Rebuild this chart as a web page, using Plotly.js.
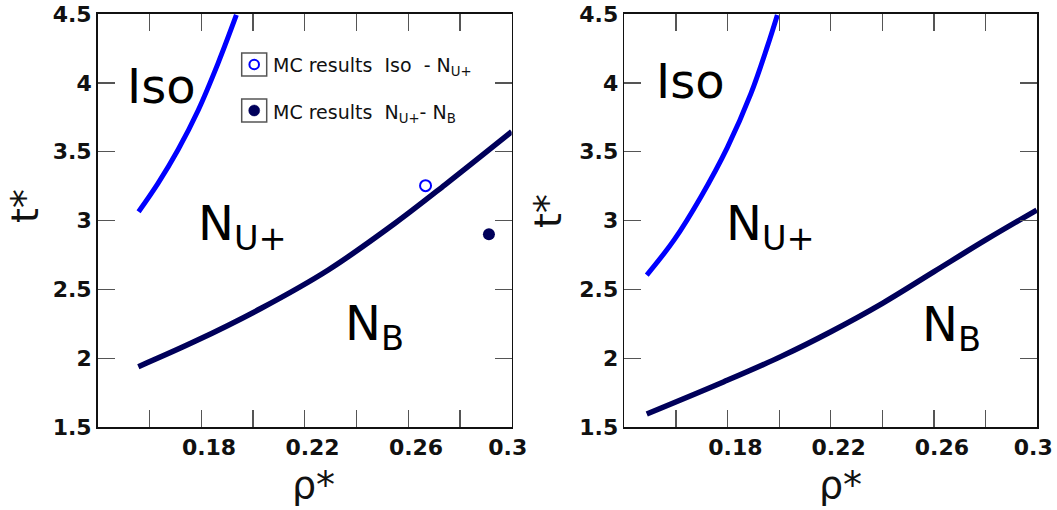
<!DOCTYPE html>
<html>
<head>
<meta charset="utf-8">
<script src="https://cdn.plot.ly/plotly-3.0.1.min.js"></script>
<style>
  html, body { margin: 0; padding: 0; background: #fff; }
  #chart { width: 1057px; height: 510px; }
</style>
</head>
<body>
<div id="chart"></div>
<script>
// Phase boundaries in the (rho*, t*) plane, two parameter sets side by side.

// Left panel: Iso / N_U+ boundary
const rhoIsoLeft = [0.1558, 0.1633, 0.1710, 0.1788, 0.1865, 0.1936];
const tIsoLeft   = [3.065, 3.271, 3.513, 3.800, 4.142, 4.493];
// Left panel: N_U+ / N_B boundary
const rhoNbLeft = [0.1557, 0.1774, 0.2032, 0.2291, 0.2549, 0.2742, 0.3000];
const tNbLeft   = [1.940, 2.122, 2.364, 2.642, 2.981, 3.260, 3.646];
// Monte Carlo points (left panel)
const rhoMcIso = [0.2667];
const tMcIso   = [3.254];
const rhoMcNb  = [0.2912];
const tMcNb    = [2.901];

// Right panel: Iso / N_U+ boundary
const rhoIsoRight = [0.1487, 0.1593, 0.1696, 0.1799, 0.1890, 0.1954, 0.1993];
const tIsoRight   = [2.605, 2.860, 3.170, 3.530, 3.920, 4.263, 4.493];
// Right panel: N_U+ / N_B boundary
const rhoNbRight = [0.1487, 0.1786, 0.2006, 0.2200, 0.2400, 0.2600, 0.2800, 0.2998];
const tNbRight   = [1.597, 1.831, 2.013, 2.194, 2.400, 2.630, 2.860, 3.077];

// Axis ticks (leading spaces nudge the four-character labels right of their ticks)
const xTickVals = [0.18, 0.22, 0.26, 0.30];
const xTickText = ['\u2007\u20080.18', '\u2007\u20080.22', '\u2007\u20080.26', '0.3'];
const yTickVals = [1.5, 2, 2.5, 3, 3.5, 4, 4.5];
const yTickText = ['1.5', '2', '2.5', '3', '3.5', '4', '4.5'];

const W = 1057, H = 510;
const px = x => x / W;
const py = y => 1 - y / H;

const BLUE = '#0000ff';
const NAVY = '#00005a';

const traces = [
  { x: rhoIsoLeft, y: tIsoLeft, xaxis: 'x', yaxis: 'y', mode: 'lines',
    line: { color: BLUE, width: 5, shape: 'spline' } },
  { x: rhoNbLeft, y: tNbLeft, xaxis: 'x', yaxis: 'y', mode: 'lines',
    line: { color: NAVY, width: 5.5, shape: 'spline' } },
  { x: rhoMcIso, y: tMcIso, xaxis: 'x', yaxis: 'y', mode: 'markers',
    marker: { symbol: 'circle-open', size: 11, color: BLUE, line: { width: 2, color: BLUE } } },
  { x: rhoMcNb, y: tMcNb, xaxis: 'x', yaxis: 'y', mode: 'markers',
    marker: { symbol: 'circle', size: 12, color: NAVY } },
  { x: rhoIsoRight, y: tIsoRight, xaxis: 'x2', yaxis: 'y2', mode: 'lines',
    line: { color: BLUE, width: 5, shape: 'spline' } },
  { x: rhoNbRight, y: tNbRight, xaxis: 'x2', yaxis: 'y2', mode: 'lines',
    line: { color: NAVY, width: 5.5, shape: 'spline' } }
];

const tickFont = { family: 'DejaVu Sans', size: 22, weight: 'bold', color: '#111' };

function xAxis(domain, anchor) {
  return {
    domain: domain, anchor: anchor, range: [0.14, 0.30],
    tickmode: 'array', tickvals: xTickVals, ticktext: xTickText,
    ticks: 'inside', ticklen: 17, tickwidth: 1.3, tickcolor: '#555',
    minor: { tick0: 0.14, dtick: 0.02, ticks: 'inside', ticklen: 17, tickwidth: 1.3, tickcolor: '#555', showgrid: false },
    showline: true, linecolor: '#111', linewidth: 1.6, mirror: 'ticks',
    showgrid: false, zeroline: false, tickfont: tickFont,
    ticklabelshift: -4, ticklabeloverflow: 'allow'
  };
}
function yAxis(domain, anchor) {
  return {
    domain: domain, anchor: anchor, range: [1.5, 4.5],
    tickmode: 'array', tickvals: yTickVals, ticktext: yTickText,
    ticks: 'inside', ticklen: 17, tickwidth: 1.3, tickcolor: '#555',
    showline: true, linecolor: '#111', linewidth: 1.6, mirror: 'ticks',
    showgrid: false, zeroline: false, tickfont: tickFont,
    ticklabeloverflow: 'allow'
  };
}

const regionFont = { family: 'DejaVu Sans', size: 48, color: '#000' };
const titleFont = { family: 'DejaVu Sans', size: 38, color: '#111' };
const legFont = { family: 'DejaVu Sans', size: 19, color: '#111' };

function label(text, x, yTop, font) {
  return { text: text, xref: 'paper', yref: 'paper', x: px(x), y: py(yTop),
           xanchor: 'left', yanchor: 'top', showarrow: false, font: font, borderpad: 0 };
}

const annotations = [
  // region names, left panel
  label('Iso', 126, 57, regionFont),
  label('N<sub>U+</sub>', 196.5, 194, regionFont),
  label('N<sub>B</sub>', 343.5, 294, regionFont),
  // region names, right panel
  label('Iso', 654.5, 52, regionFont),
  label('N<sub>U+</sub>', 724.5, 194, regionFont),
  label('N<sub>B</sub>', 921, 295, regionFont),
  // legend text
  label('MC results\u00a0\u00a0Iso\u00a0\u00a0- N<sub>U+</sub>', 272, 53.4, legFont),
  label('MC results\u00a0\u00a0N<sub>U+</sub>- N<sub>B</sub>', 272, 99.9, legFont),
  // axis titles
  { text: 'ρ*', xref: 'paper', yref: 'paper', x: px(313), y: py(462), xanchor: 'center', yanchor: 'top',
    showarrow: false, font: titleFont, borderpad: 0 },
  { text: 'ρ*', xref: 'paper', yref: 'paper', x: px(840), y: py(462), xanchor: 'center', yanchor: 'top',
    showarrow: false, font: titleFont, borderpad: 0 },
  { text: 't*', xref: 'paper', yref: 'paper', x: px(25), y: py(206), xanchor: 'center', yanchor: 'middle',
    textangle: -90, showarrow: false, font: titleFont, borderpad: 0 },
  { text: 't*', xref: 'paper', yref: 'paper', x: px(548), y: py(211), xanchor: 'center', yanchor: 'middle',
    textangle: -90, showarrow: false, font: titleFont, borderpad: 0 }
];

function box(x0, y0, x1, y1) {
  return { type: 'rect', xref: 'paper', yref: 'paper', x0: px(x0), x1: px(x1), y0: py(y1), y1: py(y0),
           line: { color: '#555', width: 1.5 }, fillcolor: '#fff', layer: 'above' };
}
function dot(cx, cy, r, fill, stroke, w) {
  return { type: 'circle', xref: 'paper', yref: 'paper', x0: px(cx - r), x1: px(cx + r),
           y0: py(cy + r), y1: py(cy - r), line: { color: stroke, width: w }, fillcolor: fill, layer: 'above' };
}

const shapes = [
  box(241.7, 53, 266.7, 76),
  dot(254.2, 64.5, 4.8, 'rgba(0,0,0,0)', BLUE, 2),
  box(241.7, 99, 266.7, 122),
  dot(254.2, 110.5, 5.5, NAVY, NAVY, 0.5)
];

const layout = {
  width: W, height: H,
  margin: { l: 0, r: 0, t: 0, b: 0 },
  paper_bgcolor: '#fff', plot_bgcolor: '#fff',
  showlegend: false,
  xaxis: xAxis([px(97.7), px(511.7)], 'y'),
  yaxis: yAxis([py(427.3), py(14)], 'x'),
  xaxis2: xAxis([px(624.3), px(1037.3)], 'y2'),
  yaxis2: yAxis([py(427.3), py(14)], 'x2'),
  annotations: annotations,
  shapes: shapes
};

Plotly.newPlot('chart', traces, layout, { staticPlot: true, displayModeBar: false });
</script>
</body>
</html>
